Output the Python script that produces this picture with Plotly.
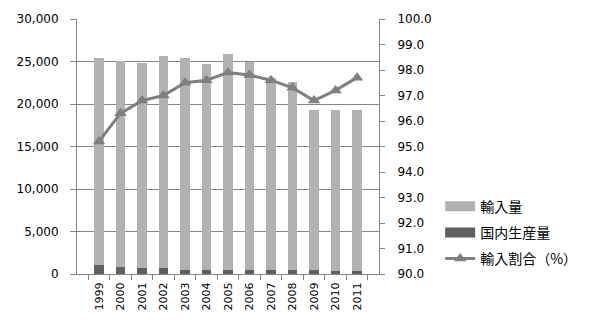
import plotly.graph_objects as go

years = ["1999", "2000", "2001", "2002", "2003", "2004", "2005", "2006",
         "2007", "2008", "2009", "2010", "2011"]
total = [25450, 25070, 24840, 25650, 25390, 24730, 25880, 24960,
         23100, 22600, 19310, 19310, 19310]
domestic = [1110, 810, 650, 650, 530, 530, 420, 420, 420, 530, 530, 380, 380]
imports = [t - d for t, d in zip(total, domestic)]
import_ratio = [95.2, 96.3, 96.8, 97.0, 97.5, 97.6, 97.9, 97.8,
                97.6, 97.3, 96.8, 97.2, 97.7]

C_IMP = "#b2b2b2"
C_DOM = "#5f5f5f"
C_LINE = "#7f7f7f"
AX = "#868686"
FONT = "DejaVu Sans, Noto Sans CJK JP"
JP = "Noto Sans CJK JP"

fig = go.Figure()
fig.add_trace(go.Bar(x=years, y=domestic, marker=dict(color=C_DOM, line=dict(width=0)),
                     name="国内生産量", showlegend=False))
fig.add_trace(go.Bar(x=years, y=imports, marker=dict(color=C_IMP, line=dict(width=0)),
                     name="輸入量", showlegend=False))
fig.add_trace(go.Scatter(x=years, y=import_ratio, yaxis="y2", mode="lines+markers",
                         line=dict(color=C_LINE, width=3),
                         marker=dict(symbol="triangle-up", size=11, color=C_LINE),
                         name="輸入割合（%）", showlegend=False))
# legend proxies
fig.add_trace(go.Scatter(x=[None], y=[None], mode="lines", line=dict(color=C_IMP, width=10),
                         name="輸入量", legendgroup="a"))
fig.add_trace(go.Scatter(x=[None], y=[None], mode="lines", line=dict(color=C_DOM, width=10),
                         name="国内生産量", legendgroup="b"))
fig.add_trace(go.Scatter(x=[None], y=[None], mode="lines+markers", yaxis="y2",
                         line=dict(color=C_LINE, width=3),
                         marker=dict(symbol="triangle-up", size=11, color=C_LINE),
                         name="輸入割合（%）", legendgroup="c"))

fig.update_layout(
    width=594, height=326,
    margin=dict(l=77, r=209, t=16, b=52),
    paper_bgcolor="white", plot_bgcolor="white",
    barmode="stack", bargap=0.57,
    font=dict(family=FONT, size=12, color="black"),
    xaxis=dict(type="category", tickangle=-90, tickfont=dict(size=11),
               showline=True, linecolor=AX, linewidth=1,
               ticks="outside", tickson="boundaries", ticklen=5, tickcolor=AX,
               ticklabelstandoff=3, showgrid=False),
    yaxis=dict(range=[0, 30000], dtick=5000, tickformat=",d",
               showline=True, linecolor=AX, linewidth=1,
               ticks="outside", ticklen=6, tickcolor=AX, ticklabelstandoff=9,
               showgrid=True, gridcolor=AX, gridwidth=1, zeroline=False),
    yaxis2=dict(range=[90, 100], dtick=1, tickformat=".1f", overlaying="y", side="right",
                showline=True, linecolor=AX, linewidth=1,
                ticks="outside", ticklen=5, tickcolor=AX, ticklabelstandoff=10,
                showgrid=False, zeroline=False),
    legend=dict(x=1.2025, y=0.327, xanchor="left", yanchor="top",
                traceorder="grouped",
                font=dict(family=JP, size=14), itemwidth=30,
                tracegroupgap=5, bgcolor="rgba(0,0,0,0)"),
)

fig.write_html("out.html")
